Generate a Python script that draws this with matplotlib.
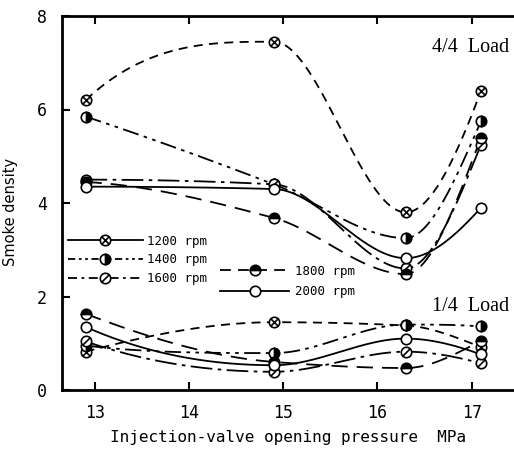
import numpy as np
import matplotlib
matplotlib.use("Agg")
import matplotlib.pyplot as plt
from matplotlib.path import Path
from matplotlib.lines import Line2D

# ---- data ----
pressure = [12.9, 14.9, 16.3, 17.1]
speeds = ["1200 rpm", "1400 rpm", "1600 rpm", "1800 rpm", "2000 rpm"]
full_load = {
    "1200 rpm": [6.2, 7.45, 3.8, 6.4],
    "1400 rpm": [5.85, 4.4, 3.25, 5.75],
    "1600 rpm": [4.5, 4.4, 2.6, 5.25],
    "1800 rpm": [4.45, 3.68, 2.48, 5.4],
    "2000 rpm": [4.35, 4.3, 2.82, 3.9],
}
quarter_load = {
    "1200 rpm": [0.82, 1.45, 1.38, 0.92],
    "1400 rpm": [0.95, 0.79, 1.4, 1.36],
    "1600 rpm": [1.04, 0.39, 0.82, 0.57],
    "1800 rpm": [1.63, 0.6, 0.47, 1.05],
    "2000 rpm": [1.35, 0.53, 1.1, 0.76],
}
xticks = [13, 14, 15, 16, 17]
yticks = [0, 2, 4, 6, 8]

# ---- markers ----
circ = Path.unit_circle()
d = 0.7071
otimes = Path.make_compound_path(circ, Path([(-d, -d), (d, d)]), Path([(-d, d), (d, -d)]))
oslash = Path.make_compound_path(circ, Path([(-d, -d), (d, d)]))

styles = {
    "1200 rpm": dict(ls=(0, (5, 3.5)), marker=otimes, mfc="white", fillstyle="full"),
    "1400 rpm": dict(ls=(0, (9, 3, 2, 3, 2, 3)), marker="o", mfc="black", fillstyle="right"),
    "1600 rpm": dict(ls=(0, (12, 3, 2, 3)), marker=oslash, mfc="white", fillstyle="full"),
    "1800 rpm": dict(ls=(0, (9, 5)), marker="o", mfc="black", fillstyle="top"),
    "2000 rpm": dict(ls="-", marker="o", mfc="white", fillstyle="full"),
}
legend_ls = {
    "1200 rpm": "-",
    "1400 rpm": (0, (4, 2, 1.5, 2, 1.5, 2)),
    "1600 rpm": (0, (5, 2.5, 1.5, 2.5)),
    "1800 rpm": (0, (6, 4)),
    "2000 rpm": "-",
}


def pchip(x, y, xs):
    x = np.asarray(x, float); y = np.asarray(y, float)
    h = np.diff(x); delta = np.diff(y) / h
    n = len(x); m = np.zeros(n)
    for k in range(1, n - 1):
        if delta[k - 1] * delta[k] > 0:
            w1 = 2 * h[k] + h[k - 1]; w2 = h[k] + 2 * h[k - 1]
            m[k] = (w1 + w2) / (w1 / delta[k - 1] + w2 / delta[k])
    def end(h0, h1, d0, d1):
        v = ((2 * h0 + h1) * d0 - h0 * d1) / (h0 + h1)
        if np.sign(v) != np.sign(d0):
            v = 0.0
        elif np.sign(d0) != np.sign(d1) and abs(v) > abs(3 * d0):
            v = 3 * d0
        return v
    m[0] = end(h[0], h[1], delta[0], delta[1])
    m[-1] = end(h[-1], h[-2], delta[-1], delta[-2])
    idx = np.clip(np.searchsorted(x, xs) - 1, 0, n - 2)
    t = (xs - x[idx]) / h[idx]
    h00 = 2 * t**3 - 3 * t**2 + 1; h10 = t**3 - 2 * t**2 + t
    h01 = -2 * t**3 + 3 * t**2; h11 = t**3 - t**2
    return (h00 * y[idx] + h10 * h[idx] * m[idx] + h01 * y[idx + 1]
            + h11 * h[idx] * m[idx + 1])


fig = plt.figure(figsize=(5.14, 4.51), dpi=100)
ax = fig.add_axes([62 / 514, 61 / 451, 452 / 514, 374 / 451])

xs = np.linspace(pressure[0], pressure[-1], 300)
for data in (full_load, quarter_load):
    for s in speeds:
        st = styles[s]
        ax.plot(xs, pchip(pressure, data[s], xs), color="black", lw=1.3,
                ls=st["ls"], zorder=2)
        ax.plot(pressure, data[s], ls="none", marker=st["marker"], ms=7.5,
                mfc=st["mfc"], mec="black", mew=1.2, fillstyle=st["fillstyle"],
                markerfacecoloralt="white", color="black", zorder=3)

ax.set_xlim(12.65, 17.45)
ax.set_ylim(0, 8)
ax.set_xticks(xticks)
ax.set_yticks(yticks)
ax.set_xticklabels([str(v) for v in xticks], family="DejaVu Sans Mono", fontsize=12)
ax.set_yticklabels([str(v) for v in yticks], family="DejaVu Sans Mono", fontsize=12)
ax.tick_params(direction="in", length=6, width=1.5, top=True, right=False)
ax.tick_params(axis="x", pad=10)
ax.tick_params(axis="y", pad=11)
for sp in ("left", "bottom", "top"):
    ax.spines[sp].set_linewidth(2)
ax.spines["right"].set_visible(False)

ax.set_xlabel("Injection-valve opening pressure  MPa", family="DejaVu Sans Mono",
              fontsize=11.5)
ax.xaxis.set_label_coords(0.5, -0.108)
ax.set_ylabel("Smoke density", family="DejaVu Sans", fontsize=10.5)
ax.yaxis.set_label_coords(-0.097, 0.475)

ax.text(17.4, 7.33, "4/4  Load", family="Liberation Serif", fontsize=14.5,
        ha="right", va="center")
ax.text(17.4, 1.78, "1/4  Load", family="Liberation Serif", fontsize=14.5,
        ha="right", va="center")


def handle(s):
    st = styles[s]
    return Line2D([], [], color="black", lw=1.3, ls=legend_ls[s], marker=st["marker"],
                  ms=7.5, mfc=st["mfc"], mec="black", mew=1.2, fillstyle=st["fillstyle"],
                  markerfacecoloralt="white")


leg1 = ax.legend([handle(s) for s in speeds[:3]], speeds[:3], loc="upper left",
                 bbox_to_anchor=(0.013, 0.415), frameon=False, borderpad=0,
                 borderaxespad=0, handlelength=6.0, handletextpad=0.3,
                 labelspacing=0.45, prop={"family": "DejaVu Sans Mono", "size": 9})
ax.add_artist(leg1)
ax.legend([handle(s) for s in speeds[3:]], speeds[3:], loc="upper left",
          bbox_to_anchor=(0.35, 0.335), frameon=False, borderpad=0,
          borderaxespad=0, handlelength=5.5, handletextpad=0.5,
          labelspacing=0.6, prop={"family": "DejaVu Sans Mono", "size": 9})

fig.savefig("out.png", dpi=100)
